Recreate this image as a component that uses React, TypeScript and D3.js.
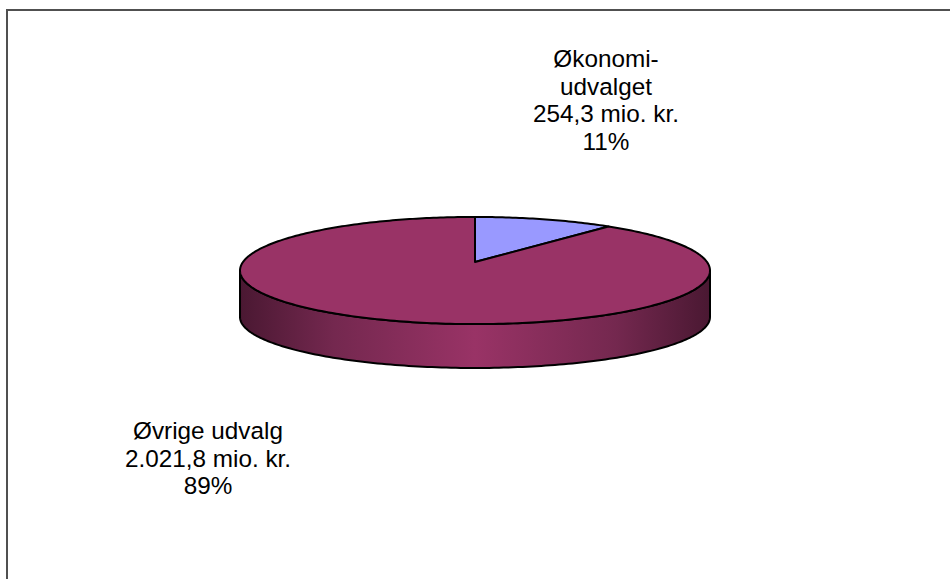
import * as d3 from "d3";

const NAMES = [["Økonomi-", "udvalget"], ["Øvrige udvalg"]];
const VALUES = [254.3, 2021.8];
const COLORS = ["#9999ff", "#993366"];
// where each data label block's first baseline sits (center x, baseline y)
const LABEL_POS = [
  [606, 67],
  [208, 439],
];

const W = 950;
const H = 579;
// 3d pie geometry
const CX = 475;
const R = 232;
const K = 0.159; // perspective factor
const TOP = { cy: 262, e: 52.2 };
const BOTTOM = { cy: 309, e: 49.6 };
const FONT = 24.3;
const LINE_H = 27.7;

const da = d3.formatLocale({
  decimal: ",",
  thousands: ".",
  grouping: [3],
  currency: ["", " kr."],
});
const fmt = da.format(",.1f");

const proj = (a: number, layer: { cy: number; e: number }) => {
  const u = Math.sin(a);
  const v = -Math.cos(a);
  const d = 1 - K * v;
  return [CX + (R * u) / d, layer.cy + (layer.e * v) / d];
};

const arcPts = (a0: number, a1: number, layer: { cy: number; e: number }) => {
  const n = Math.max(2, Math.ceil(((a1 - a0) * 180) / Math.PI));
  return d3.range(n + 1).map((i) => proj(a0 + ((a1 - a0) * i) / n, layer));
};

export default function App() {
  const total = d3.sum(VALUES);
  const pie = d3
    .pie<number>()
    .sort(null)
    .startAngle(0)
    .endAngle(2 * Math.PI)(VALUES);

  // visible front band of the side wall
  const f0 = Math.acos(-K);
  const f1 = 2 * Math.PI - f0;
  const left = proj(f1, TOP)[0];
  const right = proj(f0, TOP)[0];

  const line = d3.line();

  const sides = pie
    .map((s, i) => {
      const s0 = Math.max(s.startAngle, f0);
      const s1 = Math.min(s.endAngle, f1);
      if (s1 <= s0) return null;
      const top = arcPts(s0, s1, TOP);
      const bot = arcPts(s0, s1, BOTTOM).reverse();
      return { i, d: line([...top, ...bot] as [number, number][]) + "Z" };
    })
    .filter(Boolean) as { i: number; d: string }[];

  const tops = pie.map((s, i) => {
    const pts = [[CX, TOP.cy], ...arcPts(s.startAngle, s.endAngle, TOP)];
    return { i, d: line(pts as [number, number][]) + "Z" };
  });

  return (
    <svg
      width={W}
      height={H}
      style={{ position: "absolute", left: 0, top: 0, background: "#fff" }}
    >
      <defs>
        <linearGradient
          id="side"
          gradientUnits="userSpaceOnUse"
          x1={left}
          x2={right}
          y1={0}
          y2={0}
        >
          <stop offset="0%" stopColor="#4a1832" />
          <stop offset="20%" stopColor="#74284f" />
          <stop offset="50%" stopColor="#993366" />
          <stop offset="80%" stopColor="#74284f" />
          <stop offset="100%" stopColor="#4a1832" />
        </linearGradient>
      </defs>
      <rect
        x={7}
        y={10}
        width={1000}
        height={1000}
        fill="none"
        stroke="#505050"
        strokeWidth={2}
      />
      {sides.map((s) => (
        <path
          key={"s" + s.i}
          d={s.d}
          fill={s.i === 1 ? "url(#side)" : COLORS[s.i]}
          stroke="#000"
          strokeWidth={2}
          strokeLinejoin="round"
        />
      ))}
      {tops.map((t) => (
        <path
          key={"t" + t.i}
          d={t.d}
          fill={COLORS[t.i]}
          stroke="#000"
          strokeWidth={2}
          strokeLinejoin="round"
        />
      ))}
      {VALUES.map((v, i) => {
        const lines = [
          ...NAMES[i],
          fmt(v) + " mio. kr.",
          Math.round((v / total) * 100) + "%",
        ];
        return (
          <text
            key={"l" + i}
            x={LABEL_POS[i][0]}
            y={LABEL_POS[i][1]}
            textAnchor="middle"
            fontFamily="'Liberation Sans', Arial, sans-serif"
            fontSize={FONT}
            fill="#000"
          >
            {lines.map((l, j) => (
              <tspan key={j} x={LABEL_POS[i][0]} dy={j === 0 ? 0 : LINE_H}>
                {l}
              </tspan>
            ))}
          </text>
        );
      })}
    </svg>
  );
}
